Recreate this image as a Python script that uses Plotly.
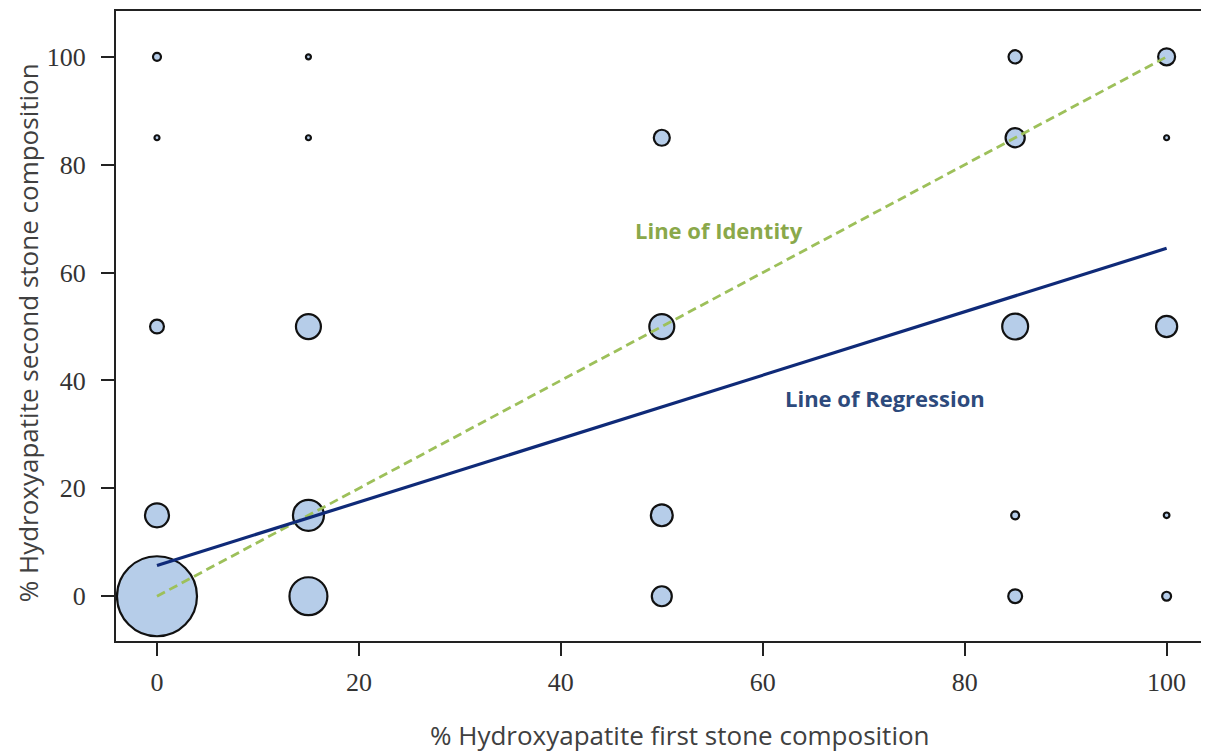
import plotly.graph_objects as go

# Bubble data: first stone % (x), second stone % (y), estimated count (bubble area)
first_pct = [0, 0, 0, 0, 0,
             15, 15, 15, 15, 15,
             50, 50, 50, 50,
             85, 85, 85, 85, 85,
             100, 100, 100, 100, 100]
second_pct = [0, 15, 50, 85, 100,
              0, 15, 50, 85, 100,
              0, 15, 50, 85,
              0, 15, 50, 85, 100,
              0, 15, 50, 85, 100]
counts = [400, 36, 12, 1, 4,
          90, 60, 39, 1, 1,
          25, 30, 39, 16,
          12, 4, 42, 23, 11,
          5, 2, 28, 1, 18]

# Lines
identity_x = [0, 100]
identity_y = [0, 100]
regression_x = [0, 100]
regression_y = [5.7, 64.5]

x_ticks = [0, 20, 40, 60, 80, 100]
y_ticks = [0, 20, 40, 60, 80, 100]

fig = go.Figure()

fig.add_trace(go.Scatter(
    x=first_pct, y=second_pct, mode="markers",
    marker=dict(size=counts, sizemode="area", sizeref=0.125, sizemin=2.5, opacity=1,
                color="#b6cde9", line=dict(color="#111111", width=2.2)),
    showlegend=False, hoverinfo="skip"))

fig.add_trace(go.Scatter(
    x=identity_x, y=identity_y, mode="lines",
    line=dict(color="#9dc05a", width=2.8, dash="9px,5px"),
    showlegend=False, hoverinfo="skip"))

fig.add_trace(go.Scatter(
    x=regression_x, y=regression_y, mode="lines",
    line=dict(color="#0f2a78", width=3.2),
    showlegend=False, hoverinfo="skip"))

axis_common = dict(
    showline=True, linewidth=2, linecolor="#222222", mirror=True,
    ticks="outside", ticklen=13, tickwidth=2, tickcolor="#222222",
    showgrid=False, zeroline=False,
    tickfont=dict(family="Liberation Serif, DejaVu Serif, serif", size=26, color="#333333"),
)

fig.update_xaxes(range=[-4.06, 104.0], tickvals=x_ticks, ticktext=[str(v) for v in x_ticks],
                 ticklabelstandoff=4, **axis_common)
fig.update_yaxes(range=[-8.3, 108.5], tickvals=y_ticks, ticktext=[str(v) for v in y_ticks],
                 ticklabelstandoff=10, **axis_common)

title_font = dict(family="Open Sans, Lato, sans-serif", size=26, color="#404040")
fig.add_annotation(text="% Hydroxyapatite first stone composition", xref="paper", yref="paper",
                   x=0.517, y=-0.149, xanchor="center", yanchor="middle",
                   showarrow=False, font=title_font)
fig.add_annotation(text="% Hydroxyapatite second stone composition", xref="paper", yref="paper",
                   x=-0.0807, y=0.49, xanchor="center", yanchor="middle", textangle=-90,
                   showarrow=False, font=title_font)

fig.add_annotation(text="<b>Line of Identity</b>", x=55.7, y=67.9, xref="x", yref="y",
                   showarrow=False, font=dict(family="Open Sans, Lato, sans-serif", size=22, color="#8aa84a"))
fig.add_annotation(text="<b>Line of Regression</b>", x=72.1, y=36.7, xref="x", yref="y",
                   showarrow=False, font=dict(family="Open Sans, Lato, sans-serif", size=22, color="#2d4a7c"))

fig.update_layout(
    width=1209, height=751,
    margin=dict(l=108, r=10, t=1, b=118),
    plot_bgcolor="white", paper_bgcolor="white",
)

fig.write_html("out.html")
